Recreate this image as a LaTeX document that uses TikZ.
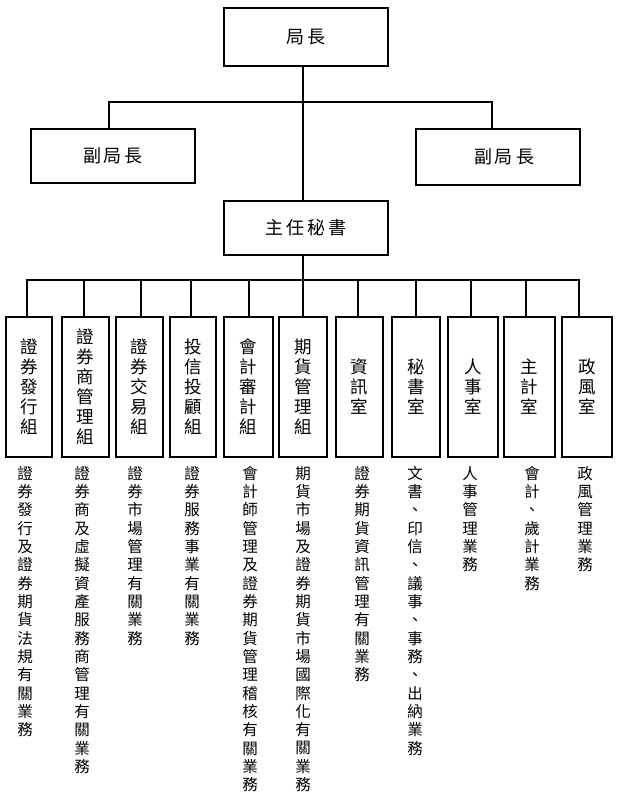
\documentclass[tikz,border=0pt]{standalone}
\usepackage{fontspec}
\setmainfont{Noto Sans CJK TC}
\begin{document}
\begin{tikzpicture}[x=1pt,y=-1pt,
  box/.style={draw, line width=1.8pt, inner sep=0pt, align=center},
  head/.style={box, minimum width=164pt, font=\fontsize{18}{20}\selectfont},
  unit/.style={box, minimum height=140pt, font=\fontsize{17.5}{20}\selectfont},
  desc/.style={inner sep=0pt, anchor=north, align=center, font=\fontsize{15.5}{18.33}\selectfont},
  link/.style={line width=1.8pt, line cap=rect}]
\useasboundingbox (0,0) rectangle (620,805);
% top levels
\node[head, minimum height=58pt] (dir) at (306,37) {局\kern3pt 長};
\node[head, minimum height=54pt] (depL) at (113,156) {副\kern3pt 局\kern3pt 長};
\node[head, minimum height=56pt] (depR) at (498,157) {\hspace*{12pt}副\kern3pt 局\kern3pt 長};
\node[head, minimum height=54pt] (sec) at (306,228) {主\kern3pt 任\kern3pt 秘\kern3pt 書};
% units
\node[unit, minimum width=46pt] (u1) at (29,387) {證\\券\\發\\行\\組};
\node[unit, minimum width=47pt] (u2) at (85.5,387) {證\\券\\商\\管\\理\\組};
\node[unit, minimum width=47pt] (u3) at (139.5,387) {證\\券\\交\\易\\組};
\node[unit, minimum width=46pt] (u4) at (193,387) {投\\信\\投\\顧\\組};
\node[unit, minimum width=49pt] (u5) at (248.5,387) {會\\計\\審\\計\\組};
\node[unit, minimum width=48pt] (u6) at (303,387) {期\\貨\\管\\理\\組};
\node[unit, minimum width=47pt] (u7) at (359.5,387) {資\\訊\\室};
\node[unit, minimum width=48pt] (u8) at (416,387) {秘\\書\\室};
\node[unit, minimum width=50pt] (u9) at (473,387) {人\\事\\室};
\node[unit, minimum width=51pt] (u10) at (529.5,387) {主\\計\\室};
\node[unit, minimum width=50pt] (u11) at (587,387) {政\\風\\室};
% descriptions
\node[desc] (t1) at (25,466) {證\\券\\發\\行\\及\\證\\券\\期\\貨\\法\\規\\有\\關\\業\\務};
\node[desc] (t2) at (82,466) {證\\券\\商\\及\\虛\\擬\\資\\產\\服\\務\\商\\管\\理\\有\\關\\業\\務};
\node[desc] (t3) at (135,466) {證\\券\\市\\場\\管\\理\\有\\關\\業\\務};
\node[desc] (t4) at (192,466) {證\\券\\服\\務\\事\\業\\有\\關\\業\\務};
\node[desc] (t5) at (250,466) {會\\計\\師\\管\\理\\及\\證\\券\\期\\貨\\管\\理\\稽\\核\\有\\關\\業\\務};
\node[desc] (t6) at (303,466) {期\\貨\\市\\場\\及\\證\\券\\期\\貨\\市\\場\\國\\際\\化\\有\\關\\業\\務};
\node[desc] (t7) at (362,466) {證\\券\\期\\貨\\資\\訊\\管\\理\\有\\關\\業\\務};
\node[desc] (t8) at (415,466) {文\\書\\、\\印\\信\\、\\議\\事\\、\\事\\務\\、\\出\\納\\業\\務};
\node[desc] (t9) at (470,466) {人\\事\\管\\理\\業\\務};
\node[desc] (t10) at (532,466) {會\\計\\、\\歲\\計\\業\\務};
\node[desc] (t11) at (585,466) {政\\風\\管\\理\\業\\務};
% connectors
\coordinate (trunk) at (303,0);
\coordinate (jL) at (109,102);
\coordinate (jR) at (492,102);
\draw[link] (trunk |- dir.south) -- (trunk |- sec.north);
\draw[link] (jL |- depL.north) -- (jL) -- (jR) -- (jR |- depR.north);
\coordinate (d1) at (27,280);
\coordinate (d2) at (84,280);
\coordinate (d3) at (141,280);
\coordinate (d4) at (191,280);
\coordinate (d5) at (249,280);
\coordinate (d6) at (303,280);
\coordinate (d7) at (358,280);
\coordinate (d8) at (416,280);
\coordinate (d9) at (471,280);
\coordinate (d10) at (526,280);
\coordinate (d11) at (579,280);
\draw[link] (d6 |- sec.south) -- (d6);
\draw[link] (d1 |- u1.north) -- (d1) -- (d11) -- (d11 |- u11.north);
\foreach \i in {2,...,10} {
  \draw[link] (d\i) -- (d\i |- u\i.north);
}
\end{tikzpicture}
\end{document}
